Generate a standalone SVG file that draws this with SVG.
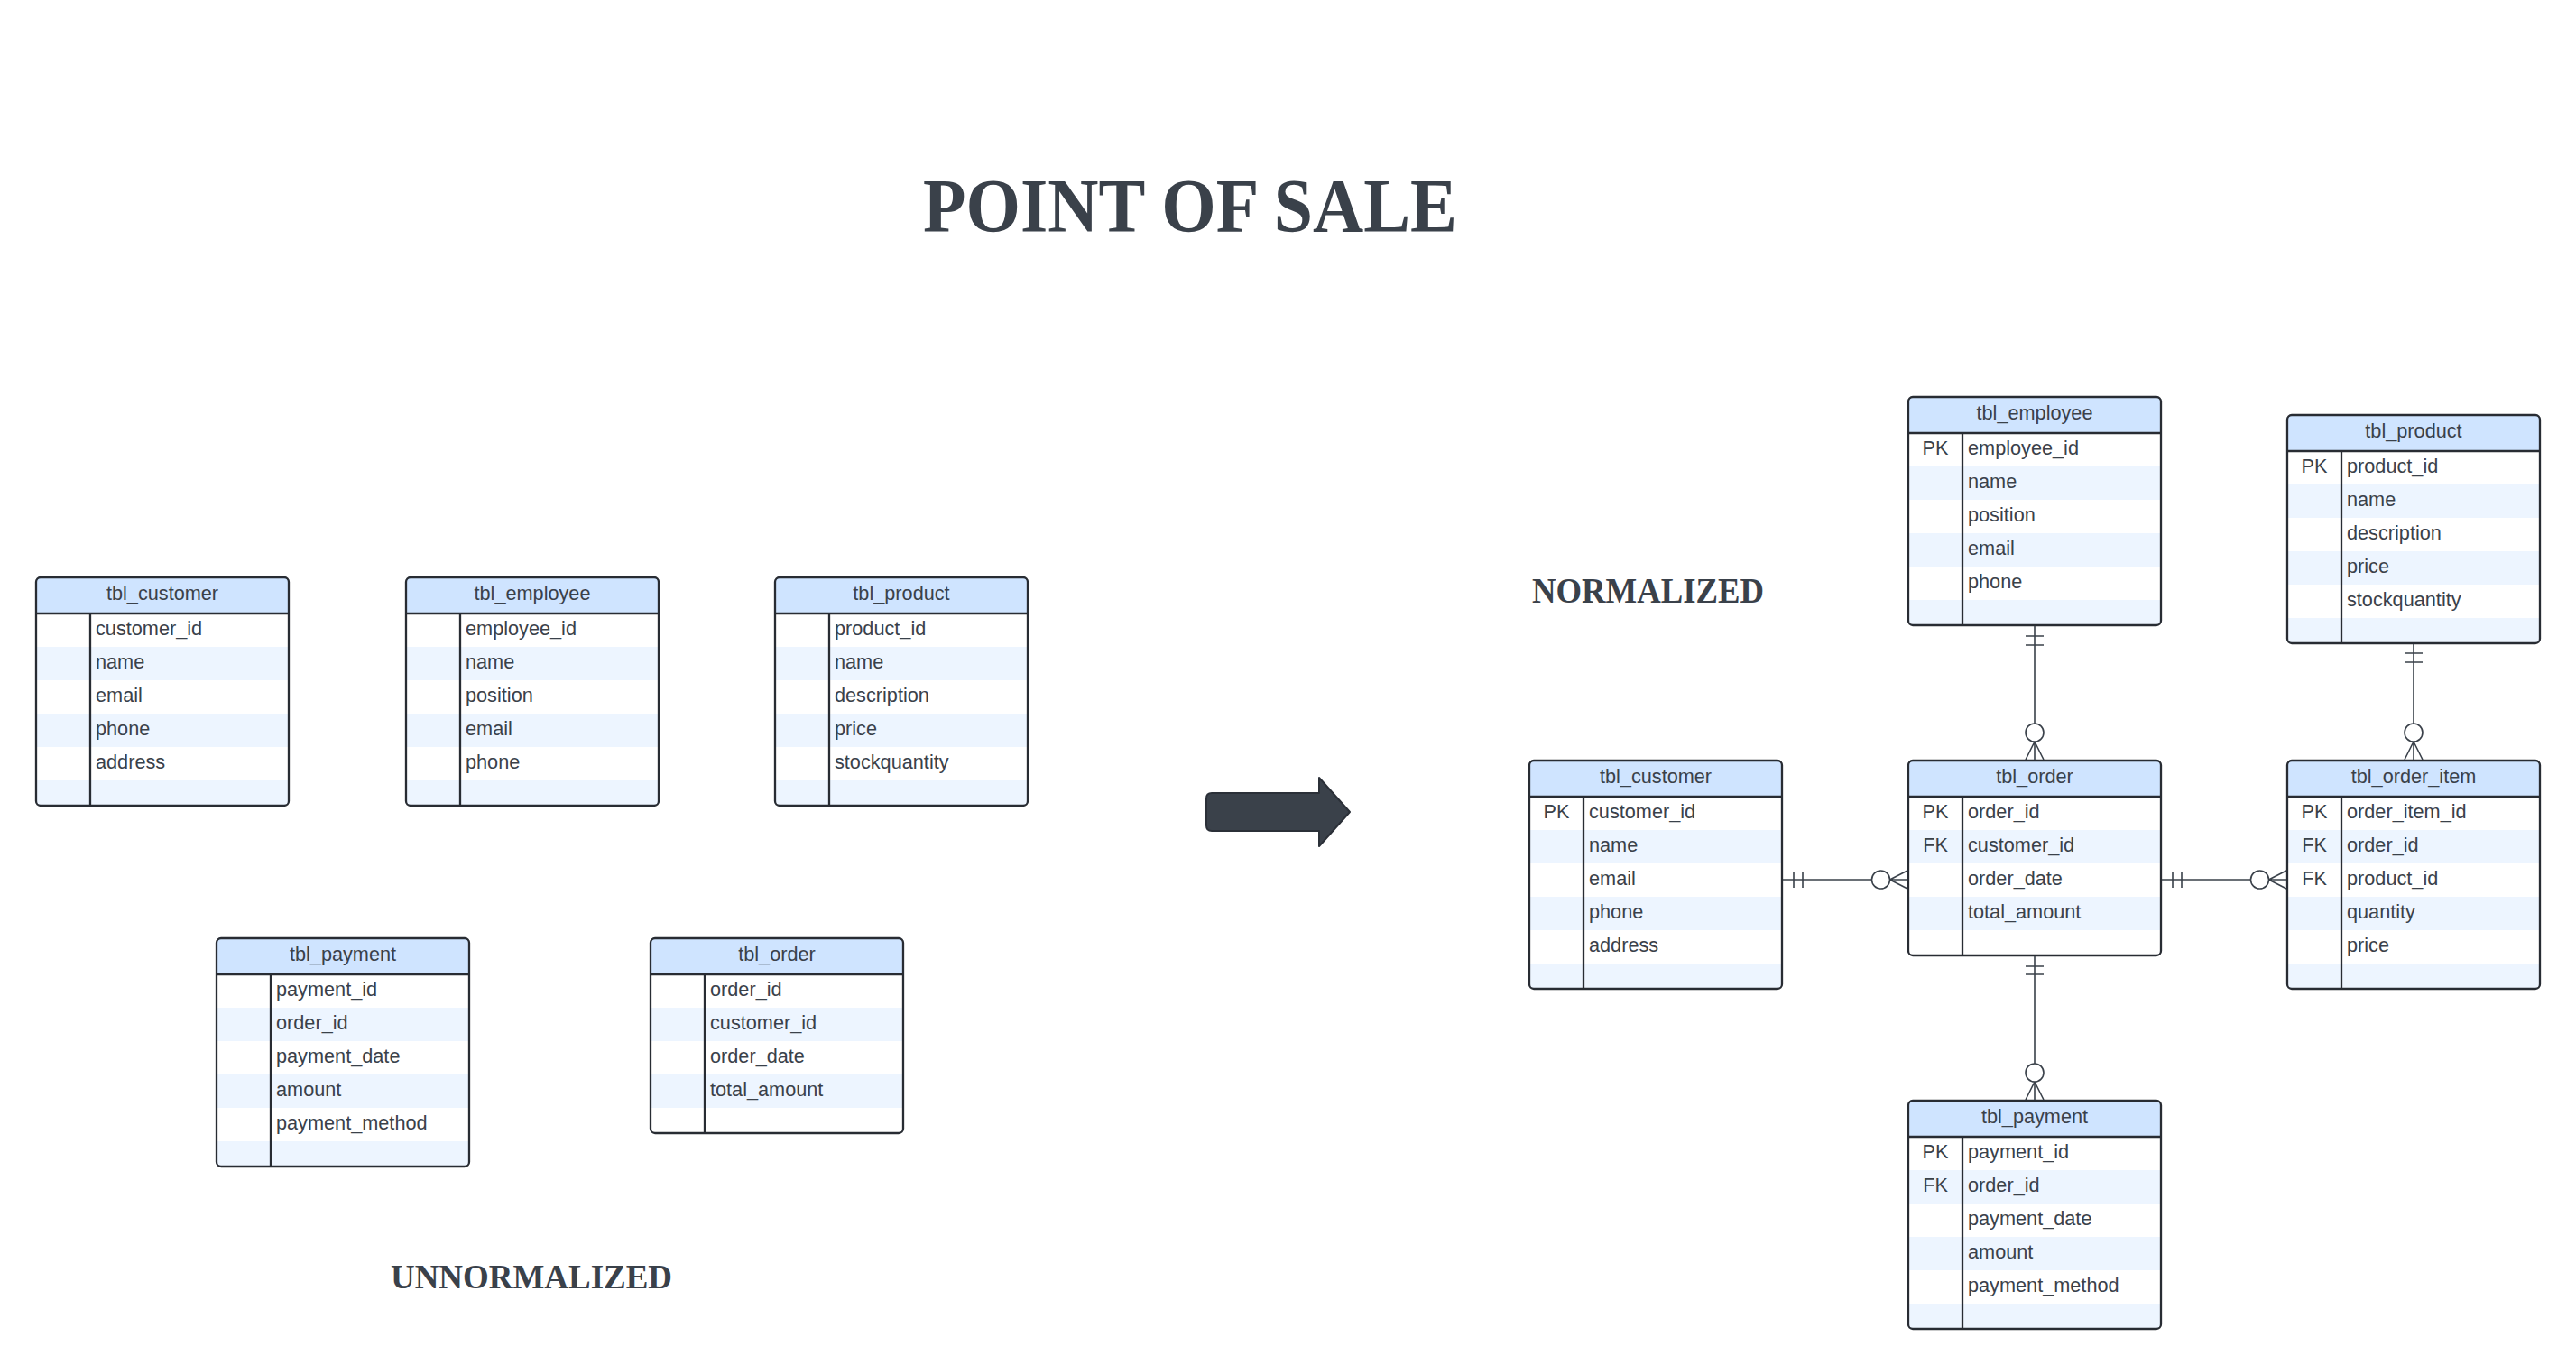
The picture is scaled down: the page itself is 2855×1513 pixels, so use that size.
<svg xmlns="http://www.w3.org/2000/svg" width="2855" height="1513" viewBox="0 0 2855 1513">
<style>
.bg{fill:#ffffff}
.hdr{fill:#cfe4ff}
.alt{fill:#edf5ff}
.frame{fill:none;stroke:#282c33;stroke-width:2.3}
.ln{stroke:#282c33;stroke-width:2.3;fill:none}
.th{font-family:"Liberation Sans",Arial,sans-serif;font-size:21.7px;fill:#3a414a;text-anchor:middle}
.td{font-family:"Liberation Sans",Arial,sans-serif;font-size:21.7px;fill:#3a414a}
.tk{font-family:"Liberation Sans",Arial,sans-serif;font-size:21.7px;fill:#3a414a;text-anchor:middle}
.ttl{font-family:"Liberation Serif","Times New Roman",serif;font-weight:bold;fill:#3a414a}
.cn{stroke:#3a414a;stroke-width:1.6;fill:none}
.cc{stroke:#3a414a;stroke-width:1.6;fill:#ffffff}
</style>
<defs>
<path id="hd" d="M0,40 V5 Q0,0 5,0 H275 Q280,0 280,5 V40 Z"/>
<path id="last5" d="M0,225 H280 V248 Q280,253 275,253 H5 Q0,253 0,248 Z"/>
</defs>

<text class="ttl" x="1023" y="257" font-size="84" textLength="592" lengthAdjust="spacingAndGlyphs">POINT OF SALE</text>
<text class="ttl" x="1698" y="668" font-size="39" textLength="257" lengthAdjust="spacingAndGlyphs">NORMALIZED</text>
<text class="ttl" x="433" y="1428" font-size="38" textLength="312" lengthAdjust="spacingAndGlyphs">UNNORMALIZED</text>

<g id="arrow">
<path d="M1343,879 H1462 V862 L1496,900 L1462,938 V921 H1343 Q1337,921 1337,915 V885 Q1337,879 1343,879 Z" fill="#3a414a" stroke="#2b3038" stroke-width="2" stroke-linejoin="round"/>
</g>

<!-- Unnormalized tables -->
<g id="u_customer" transform="translate(40,640)">
<rect class="bg" x="0" y="0" width="280" height="253" rx="5"/>
<use href="#hd" class="hdr"/>
<rect class="alt" x="0" y="77" width="280" height="37"/>
<rect class="alt" x="0" y="151" width="280" height="37"/>
<use href="#last5" class="alt"/>
<line class="ln" x1="0" y1="40" x2="280" y2="40"/>
<line class="ln" x1="60" y1="40" x2="60" y2="253"/>
<rect class="frame" x="0" y="0" width="280" height="253" rx="5"/>
<text class="th" x="140" y="24.5">tbl_customer</text>
<text class="td" x="66" y="63.5">customer_id</text>
<text class="td" x="66" y="100.5">name</text>
<text class="td" x="66" y="137.5">email</text>
<text class="td" x="66" y="174.5">phone</text>
<text class="td" x="66" y="211.5">address</text>
</g>

<g id="u_employee" transform="translate(450,640)">
<rect class="bg" x="0" y="0" width="280" height="253" rx="5"/>
<use href="#hd" class="hdr"/>
<rect class="alt" x="0" y="77" width="280" height="37"/>
<rect class="alt" x="0" y="151" width="280" height="37"/>
<use href="#last5" class="alt"/>
<line class="ln" x1="0" y1="40" x2="280" y2="40"/>
<line class="ln" x1="60" y1="40" x2="60" y2="253"/>
<rect class="frame" x="0" y="0" width="280" height="253" rx="5"/>
<text class="th" x="140" y="24.5">tbl_employee</text>
<text class="td" x="66" y="63.5">employee_id</text>
<text class="td" x="66" y="100.5">name</text>
<text class="td" x="66" y="137.5">position</text>
<text class="td" x="66" y="174.5">email</text>
<text class="td" x="66" y="211.5">phone</text>
</g>

<g id="u_product" transform="translate(859,640)">
<rect class="bg" x="0" y="0" width="280" height="253" rx="5"/>
<use href="#hd" class="hdr"/>
<rect class="alt" x="0" y="77" width="280" height="37"/>
<rect class="alt" x="0" y="151" width="280" height="37"/>
<use href="#last5" class="alt"/>
<line class="ln" x1="0" y1="40" x2="280" y2="40"/>
<line class="ln" x1="60" y1="40" x2="60" y2="253"/>
<rect class="frame" x="0" y="0" width="280" height="253" rx="5"/>
<text class="th" x="140" y="24.5">tbl_product</text>
<text class="td" x="66" y="63.5">product_id</text>
<text class="td" x="66" y="100.5">name</text>
<text class="td" x="66" y="137.5">description</text>
<text class="td" x="66" y="174.5">price</text>
<text class="td" x="66" y="211.5">stockquantity</text>
</g>

<g id="u_payment" transform="translate(240,1040)">
<rect class="bg" x="0" y="0" width="280" height="253" rx="5"/>
<use href="#hd" class="hdr"/>
<rect class="alt" x="0" y="77" width="280" height="37"/>
<rect class="alt" x="0" y="151" width="280" height="37"/>
<use href="#last5" class="alt"/>
<line class="ln" x1="0" y1="40" x2="280" y2="40"/>
<line class="ln" x1="60" y1="40" x2="60" y2="253"/>
<rect class="frame" x="0" y="0" width="280" height="253" rx="5"/>
<text class="th" x="140" y="24.5">tbl_payment</text>
<text class="td" x="66" y="63.5">payment_id</text>
<text class="td" x="66" y="100.5">order_id</text>
<text class="td" x="66" y="137.5">payment_date</text>
<text class="td" x="66" y="174.5">amount</text>
<text class="td" x="66" y="211.5">payment_method</text>
</g>

<g id="u_order" transform="translate(721,1040)">
<rect class="bg" x="0" y="0" width="280" height="216" rx="5"/>
<use href="#hd" class="hdr"/>
<rect class="alt" x="0" y="77" width="280" height="37"/>
<rect class="alt" x="0" y="151" width="280" height="37"/>
<line class="ln" x1="0" y1="40" x2="280" y2="40"/>
<line class="ln" x1="60" y1="40" x2="60" y2="216"/>
<rect class="frame" x="0" y="0" width="280" height="216" rx="5"/>
<text class="th" x="140" y="24.5">tbl_order</text>
<text class="td" x="66" y="63.5">order_id</text>
<text class="td" x="66" y="100.5">customer_id</text>
<text class="td" x="66" y="137.5">order_date</text>
<text class="td" x="66" y="174.5">total_amount</text>
</g>

<!-- Normalized tables -->
<g id="n_employee" transform="translate(2115,440)">
<rect class="bg" x="0" y="0" width="280" height="253" rx="5"/>
<use href="#hd" class="hdr"/>
<rect class="alt" x="0" y="77" width="280" height="37"/>
<rect class="alt" x="0" y="151" width="280" height="37"/>
<use href="#last5" class="alt"/>
<line class="ln" x1="0" y1="40" x2="280" y2="40"/>
<line class="ln" x1="60" y1="40" x2="60" y2="253"/>
<rect class="frame" x="0" y="0" width="280" height="253" rx="5"/>
<text class="th" x="140" y="24.5">tbl_employee</text>
<text class="tk" x="30" y="63.5">PK</text>
<text class="td" x="66" y="63.5">employee_id</text>
<text class="td" x="66" y="100.5">name</text>
<text class="td" x="66" y="137.5">position</text>
<text class="td" x="66" y="174.5">email</text>
<text class="td" x="66" y="211.5">phone</text>
</g>

<g id="n_product" transform="translate(2535,460)">
<rect class="bg" x="0" y="0" width="280" height="253" rx="5"/>
<use href="#hd" class="hdr"/>
<rect class="alt" x="0" y="77" width="280" height="37"/>
<rect class="alt" x="0" y="151" width="280" height="37"/>
<use href="#last5" class="alt"/>
<line class="ln" x1="0" y1="40" x2="280" y2="40"/>
<line class="ln" x1="60" y1="40" x2="60" y2="253"/>
<rect class="frame" x="0" y="0" width="280" height="253" rx="5"/>
<text class="th" x="140" y="24.5">tbl_product</text>
<text class="tk" x="30" y="63.5">PK</text>
<text class="td" x="66" y="63.5">product_id</text>
<text class="td" x="66" y="100.5">name</text>
<text class="td" x="66" y="137.5">description</text>
<text class="td" x="66" y="174.5">price</text>
<text class="td" x="66" y="211.5">stockquantity</text>
</g>

<g id="n_customer" transform="translate(1695,843)">
<rect class="bg" x="0" y="0" width="280" height="253" rx="5"/>
<use href="#hd" class="hdr"/>
<rect class="alt" x="0" y="77" width="280" height="37"/>
<rect class="alt" x="0" y="151" width="280" height="37"/>
<use href="#last5" class="alt"/>
<line class="ln" x1="0" y1="40" x2="280" y2="40"/>
<line class="ln" x1="60" y1="40" x2="60" y2="253"/>
<rect class="frame" x="0" y="0" width="280" height="253" rx="5"/>
<text class="th" x="140" y="24.5">tbl_customer</text>
<text class="tk" x="30" y="63.5">PK</text>
<text class="td" x="66" y="63.5">customer_id</text>
<text class="td" x="66" y="100.5">name</text>
<text class="td" x="66" y="137.5">email</text>
<text class="td" x="66" y="174.5">phone</text>
<text class="td" x="66" y="211.5">address</text>
</g>

<g id="n_order" transform="translate(2115,843)">
<rect class="bg" x="0" y="0" width="280" height="216" rx="5"/>
<use href="#hd" class="hdr"/>
<rect class="alt" x="0" y="77" width="280" height="37"/>
<rect class="alt" x="0" y="151" width="280" height="37"/>
<line class="ln" x1="0" y1="40" x2="280" y2="40"/>
<line class="ln" x1="60" y1="40" x2="60" y2="216"/>
<rect class="frame" x="0" y="0" width="280" height="216" rx="5"/>
<text class="th" x="140" y="24.5">tbl_order</text>
<text class="tk" x="30" y="63.5">PK</text>
<text class="td" x="66" y="63.5">order_id</text>
<text class="tk" x="30" y="100.5">FK</text>
<text class="td" x="66" y="100.5">customer_id</text>
<text class="td" x="66" y="137.5">order_date</text>
<text class="td" x="66" y="174.5">total_amount</text>
</g>

<g id="n_order_item" transform="translate(2535,843)">
<rect class="bg" x="0" y="0" width="280" height="253" rx="5"/>
<use href="#hd" class="hdr"/>
<rect class="alt" x="0" y="77" width="280" height="37"/>
<rect class="alt" x="0" y="151" width="280" height="37"/>
<use href="#last5" class="alt"/>
<line class="ln" x1="0" y1="40" x2="280" y2="40"/>
<line class="ln" x1="60" y1="40" x2="60" y2="253"/>
<rect class="frame" x="0" y="0" width="280" height="253" rx="5"/>
<text class="th" x="140" y="24.5">tbl_order_item</text>
<text class="tk" x="30" y="63.5">PK</text>
<text class="td" x="66" y="63.5">order_item_id</text>
<text class="tk" x="30" y="100.5">FK</text>
<text class="td" x="66" y="100.5">order_id</text>
<text class="tk" x="30" y="137.5">FK</text>
<text class="td" x="66" y="137.5">product_id</text>
<text class="td" x="66" y="174.5">quantity</text>
<text class="td" x="66" y="211.5">price</text>
</g>

<g id="n_payment" transform="translate(2115,1220)">
<rect class="bg" x="0" y="0" width="280" height="253" rx="5"/>
<use href="#hd" class="hdr"/>
<rect class="alt" x="0" y="77" width="280" height="37"/>
<rect class="alt" x="0" y="151" width="280" height="37"/>
<use href="#last5" class="alt"/>
<line class="ln" x1="0" y1="40" x2="280" y2="40"/>
<line class="ln" x1="60" y1="40" x2="60" y2="253"/>
<rect class="frame" x="0" y="0" width="280" height="253" rx="5"/>
<text class="th" x="140" y="24.5">tbl_payment</text>
<text class="tk" x="30" y="63.5">PK</text>
<text class="td" x="66" y="63.5">payment_id</text>
<text class="tk" x="30" y="100.5">FK</text>
<text class="td" x="66" y="100.5">order_id</text>
<text class="td" x="66" y="137.5">payment_date</text>
<text class="td" x="66" y="174.5">amount</text>
<text class="td" x="66" y="211.5">payment_method</text>
</g>

<!-- Connectors -->
<g id="connectors">
<!-- customer -> order -->
<g>
<path class="cn" d="M1976,975 H2114 M1988,966 V984 M1998,966 V984 M2094.5,975 L2114,965 M2094.5,975 L2114,985"/>
<circle class="cc" cx="2084.5" cy="975" r="10"/>
</g>
<!-- order -> order_item -->
<g>
<path class="cn" d="M2396,975 H2534 M2408,966 V984 M2418,966 V984 M2514.5,975 L2534,965 M2514.5,975 L2534,985"/>
<circle class="cc" cx="2504.5" cy="975" r="10"/>
</g>
<!-- employee -> order -->
<g>
<path class="cn" d="M2255,694 V842 M2245,705 H2265 M2245,715 H2265 M2255,822 L2245,842 M2255,822 L2265,842"/>
<circle class="cc" cx="2255" cy="812" r="10"/>
</g>
<!-- product -> order_item -->
<g>
<path class="cn" d="M2675,714 V842 M2665,724 H2685 M2665,734 H2685 M2675,822 L2665,842 M2675,822 L2685,842"/>
<circle class="cc" cx="2675" cy="812" r="10"/>
</g>
<!-- order -> payment -->
<g>
<path class="cn" d="M2255,1060 V1219 M2245,1071 H2265 M2245,1080 H2265 M2255,1199 L2245,1219 M2255,1199 L2265,1219"/>
<circle class="cc" cx="2255" cy="1189" r="10"/>
</g>
</g>
</svg>
